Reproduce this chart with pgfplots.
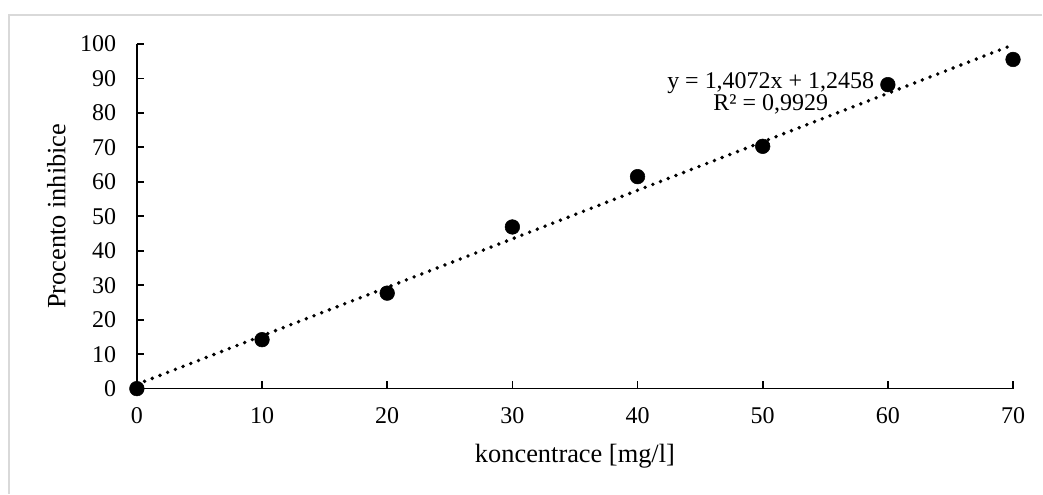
\documentclass[border=0pt]{standalone}
\usepackage{fontspec}
\setmainfont{Liberation Serif}
\usepackage{pgfplots}
\pgfplotsset{compat=1.18}
\definecolor{frame}{RGB}{217,217,217}
\begin{document}
\begin{tikzpicture}[x=0.75pt,y=0.75pt]
\path (0,0) rectangle (1043,494);
\draw[color=frame, line width=1.5pt] (1043,479) -- (9,479) -- (9,0);
\begin{axis}[
  at={(102.75pt,78.75pt)}, anchor=south west,
  scale only axis, width=657.75pt, height=258.75pt,
  xmin=0, xmax=70, ymin=0, ymax=100,
  axis x line*=bottom, axis y line*=left,
  axis line style={line width=1.3pt, -},
  tick style={line width=1.3pt, black},
  tick align=inside, major tick length=5.5pt,
  xtick={0,10,...,70}, ytick={0,10,...,100},
  ticklabel style={font=\fontsize{18}{20}\selectfont},
  /pgf/number format/assume math mode=true,
  xticklabel style={yshift=-11pt},
  yticklabel style={xshift=-12pt},
  xlabel={koncentrace [mg/l]},
  ylabel={Procento inhibice},
  label style={font=\fontsize{19.8}{23}\selectfont},
  xlabel style={at={(axis description cs:0.5,-0.197)}, anchor=center},
  ylabel style={at={(axis description cs:-0.092,0.5)}, anchor=center},
  clip=false,
]
\addplot[black, line width=2.9pt, line cap=round, dash pattern=on 0pt off 6.2pt] coordinates {(0,1.2458) (70,99.7498)};
\addplot[only marks, mark=*, mark size=5.5pt, black, mark options={fill=black, draw=black}] coordinates {
(0,0) (10,14.2) (20,27.7) (30,46.9) (40,61.5) (50,70.3) (60,88.2) (70,95.5)
};
\node[align=center, font=\fontsize{18}{16.5}\selectfont, inner sep=0pt] at (axis cs:50.64,85.8) {y = 1,4072x + 1,2458\\R² = 0,9929};
\end{axis}
\end{tikzpicture}
\end{document}
